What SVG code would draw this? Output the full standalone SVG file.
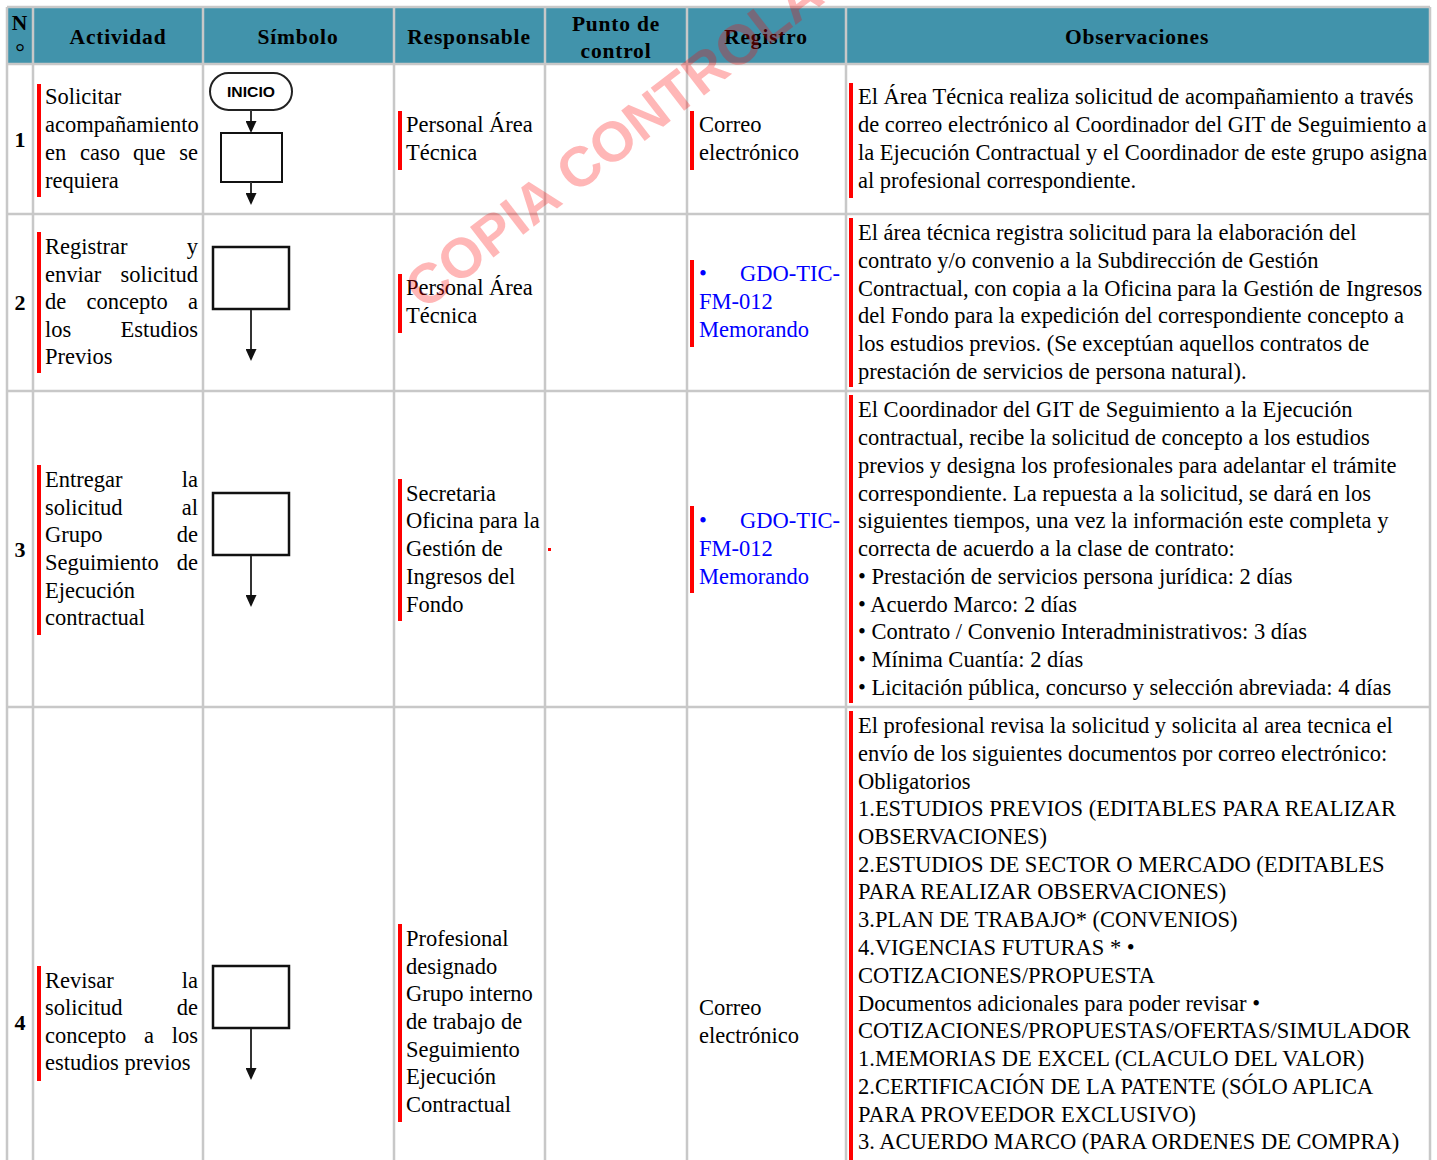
<svg xmlns="http://www.w3.org/2000/svg" width="1437" height="1160" viewBox="0 0 1437 1160">
<style>
.t{font-family:"Liberation Serif","Times New Roman",serif;font-size:22.5px;fill:#000}
.bl{fill:#0000ff}
.h{font-family:"Liberation Serif","Times New Roman",serif;font-size:21.5px;font-weight:bold;letter-spacing:0.8px;fill:#000;text-anchor:middle}
.num{font-family:"Liberation Serif","Times New Roman",serif;font-size:22px;font-weight:bold;text-anchor:middle}
.e{text-anchor:end}
.grid{stroke:#c8c8c8;stroke-width:2.5;fill:none}
.bar{fill:#ff0000}
.box{fill:#fff;stroke:#111;stroke-width:2.5}
.conn{stroke:#333;stroke-width:2;fill:none;marker-end:url(#ah)}
.wm{font-family:"Liberation Sans",Arial,sans-serif;font-size:56px;font-weight:bold;fill:#ff0000;opacity:0.28}
</style>
<defs>
<marker id="ah" markerUnits="userSpaceOnUse" markerWidth="12" markerHeight="11" viewBox="0 0 12 11" refX="0" refY="5.5" orient="auto">
<path d="M0,0 L12,5.5 L0,11 z" fill="#111"/>
</marker>
</defs>
<rect x="0" y="0" width="1437" height="1160" fill="#fff"/>
<g id="header">
<rect x="7" y="7" width="1423" height="57" fill="#4193ab"/>
<text class="h" x="20" y="30">N</text>
<text class="h" x="20" y="60" style="font-size:24px;font-weight:normal;letter-spacing:0">°</text>
<text class="h" x="118" y="44">Actividad</text>
<text class="h" x="298" y="44">Símbolo</text>
<text class="h" x="469" y="44">Responsable</text>
<text class="h" x="616" y="31">Punto de</text>
<text class="h" x="616" y="58">control</text>
<text class="h" x="766" y="44">Registro</text>
<text class="h" x="1137" y="44">Observaciones</text>
</g>
<g id="grid">
<path class="grid" d="M7,7 H1430 M7,64 H1430 M7,214 H1430 M7,391 H1430 M7,707 H1430"/>
<path class="grid" d="M7,7 V1160 M33,7 V1160 M203,7 V1160 M394,7 V1160 M545,7 V1160 M687,7 V1160 M846,7 V1160 M1430,7 V1160"/>
</g>
<g id="numbers">
<text class="num" x="20" y="147">1</text>
<text class="num" x="20" y="310">2</text>
<text class="num" x="20" y="557">3</text>
<text class="num" x="20" y="1030">4</text>
</g>
<g id="bars">
<rect class="bar" x="37" y="84" width="4" height="113"/>
<rect class="bar" x="398" y="111" width="4" height="59"/>
<rect class="bar" x="690" y="111" width="4" height="59"/>
<rect class="bar" x="849" y="83" width="4" height="115"/>
<rect class="bar" x="37" y="232" width="4" height="141"/>
<rect class="bar" x="398" y="274" width="4" height="59"/>
<rect class="bar" x="690" y="260" width="4" height="87"/>
<rect class="bar" x="849" y="218" width="4" height="169"/>
<rect class="bar" x="37" y="465" width="4" height="170"/>
<rect class="bar" x="398" y="479" width="4" height="142"/>
<rect class="bar" x="548" y="548" width="3" height="3"/>
<rect class="bar" x="690" y="506" width="4" height="87"/>
<rect class="bar" x="849" y="395" width="4" height="308"/>
<rect class="bar" x="37" y="966" width="4" height="115"/>
<rect class="bar" x="398" y="924" width="4" height="198"/>
<rect class="bar" x="849" y="711" width="4" height="449"/>
</g>
<g id="actividad">
<g id="act1">
<text class="t" x="45" y="104">Solicitar</text>
<text class="t" x="45" y="132">acompañamiento</text>
<text class="t" y="160"><tspan x="45">en</tspan><tspan x="80">caso</tspan><tspan x="133">que</tspan><tspan x="198" text-anchor="end">se</tspan></text>
<text class="t" x="45" y="188">requiera</text>
</g>
<g id="act2">
<text class="t" x="45" y="254">Registrar</text><text class="t e" x="198" y="254">y</text>
<text class="t" x="45" y="282">enviar</text><text class="t e" x="198" y="282">solicitud</text>
<text class="t" x="45" y="309">de</text><text class="t" x="86.5" y="309">concepto</text><text class="t e" x="198" y="309">a</text>
<text class="t" x="45" y="337">los</text><text class="t e" x="198" y="337">Estudios</text>
<text class="t" x="45" y="364">Previos</text>
</g>
<g id="act3">
<text class="t" x="45" y="487">Entregar</text><text class="t e" x="198" y="487">la</text>
<text class="t" x="45" y="515">solicitud</text><text class="t e" x="198" y="515">al</text>
<text class="t" x="45" y="542">Grupo</text><text class="t e" x="198" y="542">de</text>
<text class="t" x="45" y="570">Seguimiento</text><text class="t e" x="198" y="570">de</text>
<text class="t" x="45" y="598">Ejecución</text>
<text class="t" x="45" y="625">contractual</text>
</g>
<g id="act4">
<text class="t" x="45" y="988">Revisar</text><text class="t e" x="198" y="988">la</text>
<text class="t" x="45" y="1015">solicitud</text><text class="t e" x="198" y="1015">de</text>
<text class="t" x="45" y="1043">concepto</text><text class="t" x="144" y="1043">a</text><text class="t e" x="198" y="1043">los</text>
<text class="t" x="45" y="1070">estudios previos</text>
</g>
</g>
<g id="n1-inicio">
<rect x="210" y="73" width="82" height="37" rx="18.5" fill="#fff" stroke="#222" stroke-width="2"/>
<text x="251" y="96.5" text-anchor="middle" style="font-family:'Liberation Sans',Arial,sans-serif;font-size:15px;font-weight:bold" textLength="48" lengthAdjust="spacingAndGlyphs">INICIO</text>
</g>
<g id="n1-proceso"><rect class="box" x="221" y="133" width="61" height="49" style="stroke-width:2"/></g>
<g id="n2-proceso"><rect class="box" x="213" y="247" width="76" height="62"/></g>
<g id="n3-proceso"><rect class="box" x="213" y="493" width="76" height="62"/></g>
<g id="n4-proceso"><rect class="box" x="213" y="966" width="76" height="62"/></g>
<g id="connectors">
<line class="conn" x1="251" y1="110" x2="251" y2="121"/>
<line class="conn" x1="251" y1="182" x2="251" y2="193"/>
<line class="conn" x1="251" y1="310" x2="251" y2="349"/>
<line class="conn" x1="251" y1="556" x2="251" y2="595"/>
<line class="conn" x1="251" y1="1029" x2="251" y2="1068"/>
</g>
<g id="responsable">
<text class="t" x="406" y="132">Personal Área</text>
<text class="t" x="406" y="160">Técnica</text>
<text class="t" x="406" y="295">Personal Área</text>
<text class="t" x="406" y="323">Técnica</text>
<text class="t" x="406" y="501">Secretaria</text>
<text class="t" x="406" y="528">Oficina para la</text>
<text class="t" x="406" y="556">Gestión de</text>
<text class="t" x="406" y="584">Ingresos del</text>
<text class="t" x="406" y="612">Fondo</text>
<text class="t" x="406" y="946">Profesional</text>
<text class="t" x="406" y="974">designado</text>
<text class="t" x="406" y="1001">Grupo interno</text>
<text class="t" x="406" y="1029">de trabajo de</text>
<text class="t" x="406" y="1057">Seguimiento</text>
<text class="t" x="406" y="1084">Ejecución</text>
<text class="t" x="406" y="1112">Contractual</text>
</g>
<g id="registro">
<text class="t" x="699" y="132">Correo</text>
<text class="t" x="699" y="160">electrónico</text>
<text class="t bl" x="699" y="281">•</text><text class="t bl e" x="840" y="281">GDO-TIC-</text>
<text class="t bl" x="699" y="309">FM-012</text>
<text class="t bl" x="699" y="337">Memorando</text>
<text class="t bl" x="699" y="528">•</text><text class="t bl e" x="840" y="528">GDO-TIC-</text>
<text class="t bl" x="699" y="556">FM-012</text>
<text class="t bl" x="699" y="584">Memorando</text>
<text class="t" x="699" y="1015">Correo</text>
<text class="t" x="699" y="1043">electrónico</text>
</g>
<g id="observaciones">
<text class="t" x="858" y="104">El Área Técnica realiza solicitud de acompañamiento a través</text>
<text class="t" x="858" y="132">de correo electrónico al Coordinador del GIT de Seguimiento a</text>
<text class="t" x="858" y="160">la Ejecución Contractual y el Coordinador de este grupo asigna</text>
<text class="t" x="858" y="188">al profesional correspondiente.</text>
<text class="t" x="858" y="240">El área técnica registra solicitud para la elaboración del</text>
<text class="t" x="858" y="268">contrato y/o convenio a la Subdirección de Gestión</text>
<text class="t" x="858" y="296">Contractual, con copia a la Oficina para la Gestión de Ingresos</text>
<text class="t" x="858" y="323">del Fondo para la expedición del correspondiente concepto a</text>
<text class="t" x="858" y="351">los estudios previos. (Se exceptúan aquellos contratos de</text>
<text class="t" x="858" y="379">prestación de servicios de persona natural).</text>
<text class="t" x="858" y="417">El Coordinador del GIT de Seguimiento a la Ejecución</text>
<text class="t" x="858" y="445">contractual, recibe la solicitud de concepto a los estudios</text>
<text class="t" x="858" y="473">previos y designa los profesionales para adelantar el trámite</text>
<text class="t" x="858" y="501">correspondiente. La repuesta a la solicitud, se dará en los</text>
<text class="t" x="858" y="528">siguientes tiempos, una vez la información este completa y</text>
<text class="t" x="858" y="556">correcta de acuerdo a la clase de contrato:</text>
<text class="t" x="858" y="584">• Prestación de servicios persona jurídica: 2 días</text>
<text class="t" x="858" y="612">• Acuerdo Marco: 2 días</text>
<text class="t" x="858" y="639">• Contrato / Convenio Interadministrativos: 3 días</text>
<text class="t" x="858" y="667">• Mínima Cuantía: 2 días</text>
<text class="t" x="858" y="695">• Licitación pública, concurso y selección abreviada: 4 días</text>
<text class="t" x="858" y="733">El profesional revisa la solicitud y solicita al area tecnica el</text>
<text class="t" x="858" y="761">envío de los siguientes documentos por correo electrónico:</text>
<text class="t" x="858" y="789">Obligatorios</text>
<text class="t" x="858" y="816">1.ESTUDIOS PREVIOS (EDITABLES PARA REALIZAR</text>
<text class="t" x="858" y="844">OBSERVACIONES)</text>
<text class="t" x="858" y="872">2.ESTUDIOS DE SECTOR O MERCADO (EDITABLES</text>
<text class="t" x="858" y="899">PARA REALIZAR OBSERVACIONES)</text>
<text class="t" x="858" y="927">3.PLAN DE TRABAJO* (CONVENIOS)</text>
<text class="t" x="858" y="955">4.VIGENCIAS FUTURAS * •</text>
<text class="t" x="858" y="983">COTIZACIONES/PROPUESTA</text>
<text class="t" x="858" y="1011">Documentos adicionales para poder revisar •</text>
<text class="t" x="858" y="1038">COTIZACIONES/PROPUESTAS/OFERTAS/SIMULADOR</text>
<text class="t" x="858" y="1066">1.MEMORIAS DE EXCEL (CLACULO DEL VALOR)</text>
<text class="t" x="858" y="1094">2.CERTIFICACIÓN DE LA PATENTE (SÓLO APLICA</text>
<text class="t" x="858" y="1122">PARA PROVEEDOR EXCLUSIVO)</text>
<text class="t" x="858" y="1149">3. ACUERDO MARCO (PARA ORDENES DE COMPRA)</text>
</g>
<g id="watermark">
<text class="wm" transform="translate(424,311) rotate(-37.6)">COPIA CONTROLADA</text>
</g>
</svg>
